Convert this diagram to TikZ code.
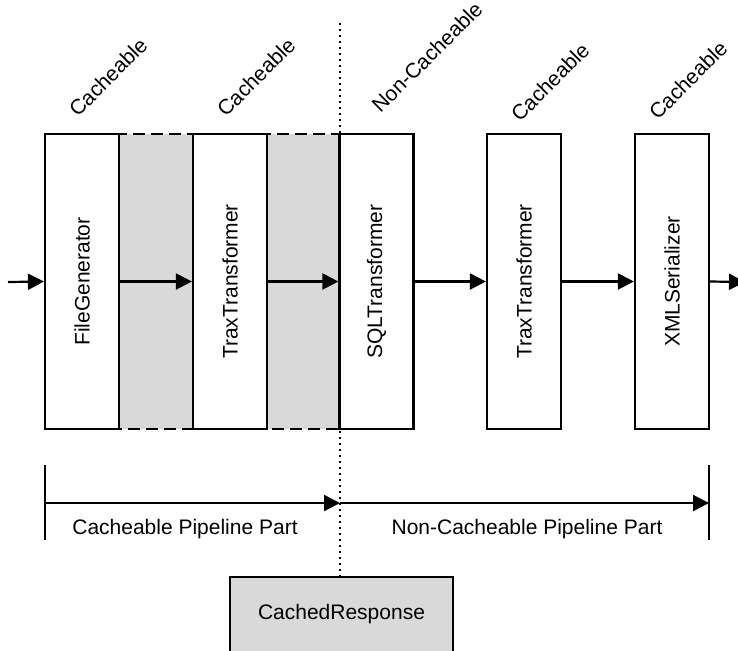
\documentclass[tikz,border=0pt]{standalone}
\usepackage{fontspec}
\setmainfont{Liberation Sans}
\usepackage{graphicx}
\usetikzlibrary{arrows.meta}
\definecolor{cachegray}{RGB}{217,217,217}
\begin{document}
\begin{tikzpicture}[x=0.5pt,y=-0.5pt,
  font=\fontsize{10.5}{12.6}\selectfont,
  line width=1.1pt,
  stage/.style={draw, fill=white, minimum width=37pt, minimum height=147.5pt, inner sep=0pt},
  flow/.style={-{Triangle[length=8pt,width=8pt]}},
  cachebox/.style={draw, fill=cachegray, minimum width=111.5pt, minimum height=37.5pt, inner sep=0pt},
  part/.style={line width=1.4pt, dash pattern=on 6pt off 3pt},
  divider/.style={line width=1.3pt, dash pattern=on 1.2pt off 1.8pt},
  tag/.style={rotate=45, inner sep=0pt}
]
\clip (0,0) rectangle (738,650);

% shaded gaps of the cached part
\fill[cachegray] (119,134) rectangle (193,429);
\fill[cachegray] (267,134) rectangle (340,429);

% pipeline stages
\node[stage] (fg)  at (82,281.5)   {\rotatebox{90}{FileGenerator}};
\node[stage] (tr1) at (230,281.5)  {\rotatebox{90}{TraxTransformer}};
\node[stage] (sql) at (376.5,281.5){\rotatebox{90}{SQLTransformer}};
\node[stage] (tr2) at (524,281.5)  {\rotatebox{90}{TraxTransformer}};
\node[stage] (xml) at (672,281.5)  {\rotatebox{90}{XMLSerializer}};

% outline of the cacheable part
\draw[part] (45,134) rectangle (340,429);

% cacheability of each stage
\node[tag] (c1) at (108,77) {Cacheable};
\node[tag] (c2) at (256,77) {Cacheable};
\node[tag] (c3) at (427,57) {Non-Cacheable};
\node[tag] (c4) at (550,82) {Cacheable};
\node[tag] (c5) at (688,80) {Cacheable};

% data flow
\coordinate (in)  at (8,282);
\coordinate (out) at (745,282);
\draw[flow] (in) -- (fg.west);
\draw[flow] (fg.east) -- (tr1.west);
\draw[flow] (tr1.east) -- (sql.west);
\draw[flow] (sql.east) -- (tr2.west);
\draw[flow] (tr2.east) -- (xml.west);
\draw[flow] (xml.east) -- (out);

% cached response
\node[cachebox] (cr) at (341.5,614.5) {CachedResponse};

% dividing line
\coordinate (divtop) at (340,23);
\draw[divider] (divtop) -- (divtop |- cr.north);

% extent of the two pipeline parts
\coordinate (bl) at (45,503);
\coordinate (bm) at (340,503);
\coordinate (br) at (709,503);
\draw (45,465) -- (45,540);
\draw (709,465) -- (709,540);
\draw[flow] (bl) -- (bm);
\draw[flow] (bm) -- (br);
\node (p1) at (185,529) {Cacheable Pipeline Part};
\node (p2) at (527,529) {Non-Cacheable Pipeline Part};
\end{tikzpicture}
\end{document}
